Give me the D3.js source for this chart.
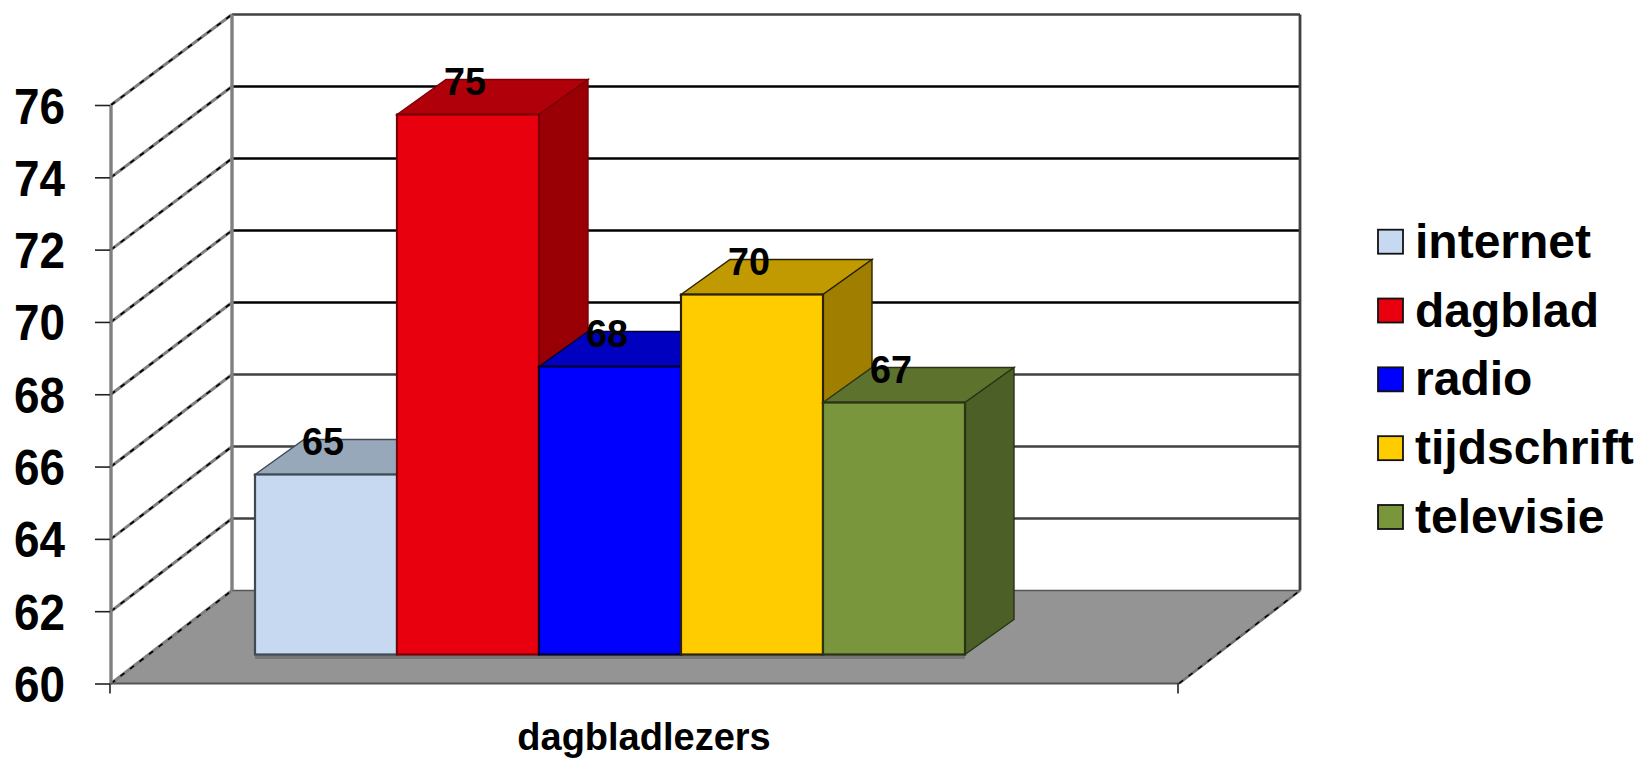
<!DOCTYPE html>
<html>
<head>
<meta charset="utf-8">
<script src="https://cdn.jsdelivr.net/npm/d3@7/dist/d3.min.js"></script>
<style>
html,body{margin:0;padding:0;background:#fff;overflow:hidden}
text{font-family:"Liberation Sans",Arial,sans-serif;font-weight:700;fill:#000}
</style>
</head>
<body>
<svg id="c" width="1642" height="759"></svg>
<script>
const seriesNames = ["internet","dagblad","radio","tijdschrift","televisie"];
const seriesValues = [65,75,68,70,67];
const seriesColors = ["#C6D9F1","#E9000E","#0000FF","#FFCC00","#7A963D"];
const topColors = ["#98A8BB","#B00009","#0000C0","#C09A00","#5C722D"];
const sideColors = ["#8795A6","#980006","#0000A0","#A07F00","#4C5F26"];
const edgeColors = ["#404A55","#7A0006","#000030","#2A2200","#2A3315"];
const yTicks = [60,62,64,66,68,70,72,74,76];
const categoryLabel = "dagbladlezers";

const svg = d3.select("#c");
const y = d3.scaleLinear().domain([60,76]).range([683.5,105]);
const yb = d3.scaleLinear().domain([60,76]).range([590.5,14.5]);
const by = d3.scaleLinear().domain([60,76]).range([654.5,78.5]);
const x = d3.scaleBand().domain(seriesNames).range([255,965]);
const floorX = d3.scaleLinear().domain([0,1]).range([111,1179]);
const wallDx = 121;
const barDepth = {dx:49, dy:-35};
const pts = a => a.map(p=>p.join(",")).join(" ");

const g = svg.append("g");
const xb0 = floorX(0)+wallDx, xb1 = floorX(1)+wallDx;

// floor
g.append("polygon")
  .attr("points",pts([[floorX(0),y(60)],[xb0,yb(60)],[xb1,yb(60)],[floorX(1),y(60)]]))
  .attr("fill","#949494");
g.append("line").attr("x1",xb0).attr("x2",xb1).attr("y1",yb(60)).attr("y2",yb(60))
  .attr("stroke","#555").attr("stroke-width",1.5);
g.append("line").attr("x1",floorX(0)).attr("x2",floorX(1)).attr("y1",y(60)).attr("y2",y(60))
  .attr("stroke","#555").attr("stroke-width",2);

// gridlines on back wall
g.selectAll(".grid").data(yTicks.slice(1)).join("line")
  .attr("x1",xb0).attr("x2",xb1)
  .attr("y1",d=>yb(d)).attr("y2",d=>yb(d))
  .attr("stroke",d=>(d>=68 && d<76)?"#000":"#404040")
  .attr("stroke-width",2.6);

// side wall diagonals
yTicks.forEach(t=>{
  const seg = s => s.attr("x1",floorX(0)).attr("y1",y(t)).attr("x2",xb0).attr("y2",yb(t));
  seg(g.append("line")).attr("stroke","#808080").attr("stroke-width",3);
  seg(g.append("line")).attr("stroke","#000").attr("stroke-width",1.7).attr("stroke-dasharray","5 7");
});
// right floor diagonal
const rseg = s => s.attr("x1",floorX(1)).attr("y1",y(60)).attr("x2",xb1).attr("y2",yb(60));
rseg(g.append("line")).attr("stroke","#707070").attr("stroke-width",2.6);
rseg(g.append("line")).attr("stroke","#000").attr("stroke-width",1.5).attr("stroke-dasharray","5 7");

// wall verticals
g.append("line").attr("x1",floorX(0)).attr("x2",floorX(0)).attr("y1",y(76)).attr("y2",y(60))
  .attr("stroke","#808080").attr("stroke-width",3.4);
g.append("line").attr("x1",xb0).attr("x2",xb0).attr("y1",yb(76)).attr("y2",yb(60))
  .attr("stroke","#808080").attr("stroke-width",3.4);
g.append("line").attr("x1",xb1).attr("x2",xb1).attr("y1",yb(76)).attr("y2",yb(60))
  .attr("stroke","#404040").attr("stroke-width",2.8);

// bar shadow strip on floor
g.append("rect").attr("x",x.range()[0]).attr("width",x.range()[1]-x.range()[0])
  .attr("y",by(60)).attr("height",4.5).attr("fill","#767676");

// y axis ticks via d3 axis
const axis = d3.axisLeft(y).tickValues(yTicks).tickSize(15).tickPadding(30);
const ag = svg.append("g").attr("transform",`translate(${floorX(0)-1},0)`).call(axis);
ag.select(".domain").remove();
ag.selectAll(".tick line").attr("stroke","#222").attr("stroke-width",1.6);
ag.selectAll("text").attr("font-size",50)
  .attr("textLength",51).attr("lengthAdjust","spacingAndGlyphs")
  .style("font-family",'"Liberation Sans",Arial,sans-serif').style("font-weight",700)
  .attr("dy","0.36em").attr("fill","#000");

// bottom tick marks
[0,1].forEach(t=>{
  svg.append("line").attr("x1",floorX(t)-1).attr("x2",floorX(t)-1)
    .attr("y1",y(60)).attr("y2",y(60)+10).attr("stroke","#222").attr("stroke-width",1.6);
});

// bars (drawn back-to-front, left to right)
const bars = svg.append("g").selectAll("g").data(seriesNames).join("g");
bars.each(function(name,i){
  const gb = d3.select(this), v = seriesValues[i];
  const x0 = x(name), x1 = x0+x.bandwidth(), t = by(v), b = by(60);
  const ddx = barDepth.dx, ddy = barDepth.dy;
  gb.append("polygon").attr("points",pts([[x0,t],[x0+ddx,t+ddy],[x1+ddx,t+ddy],[x1,t]]))
    .attr("fill",topColors[i]).attr("stroke",edgeColors[i]).attr("stroke-width",1.4);
  gb.append("polygon").attr("points",pts([[x1,t],[x1+ddx,t+ddy],[x1+ddx,b+ddy],[x1,b]]))
    .attr("fill",sideColors[i]).attr("stroke",edgeColors[i]).attr("stroke-width",1.4);
  gb.append("rect").attr("x",x0).attr("y",t).attr("width",x.bandwidth()).attr("height",b-t)
    .attr("fill",seriesColors[i]).attr("stroke",edgeColors[i]).attr("stroke-width",2.2);
});

// data labels
svg.append("g").selectAll("text").data(seriesNames).join("text")
  .attr("x",d=>x(d)+68)
  .attr("y",(d,i)=>by(seriesValues[i])-20)
  .attr("text-anchor","middle").attr("font-size",39)
  .attr("textLength",42).attr("lengthAdjust","spacingAndGlyphs")
  .text((d,i)=>seriesValues[i]);

// category label
svg.append("text").attr("x",644).attr("y",750).attr("text-anchor","middle")
  .attr("font-size",38).text(categoryLabel);

// legend
const ly = d3.scalePoint().domain(seriesNames).range([241.7,517]);
const lg = svg.append("g").selectAll("g").data(seriesNames).join("g");
lg.append("rect").attr("x",1378).attr("y",d=>ly(d)-12).attr("width",25).attr("height",24)
  .attr("fill",(d,i)=>seriesColors[i]).attr("stroke","#111").attr("stroke-width",1.8);
lg.append("text").attr("x",1415).attr("y",d=>ly(d)+16).attr("font-size",48).text(d=>d);
</script>
</body>
</html>
